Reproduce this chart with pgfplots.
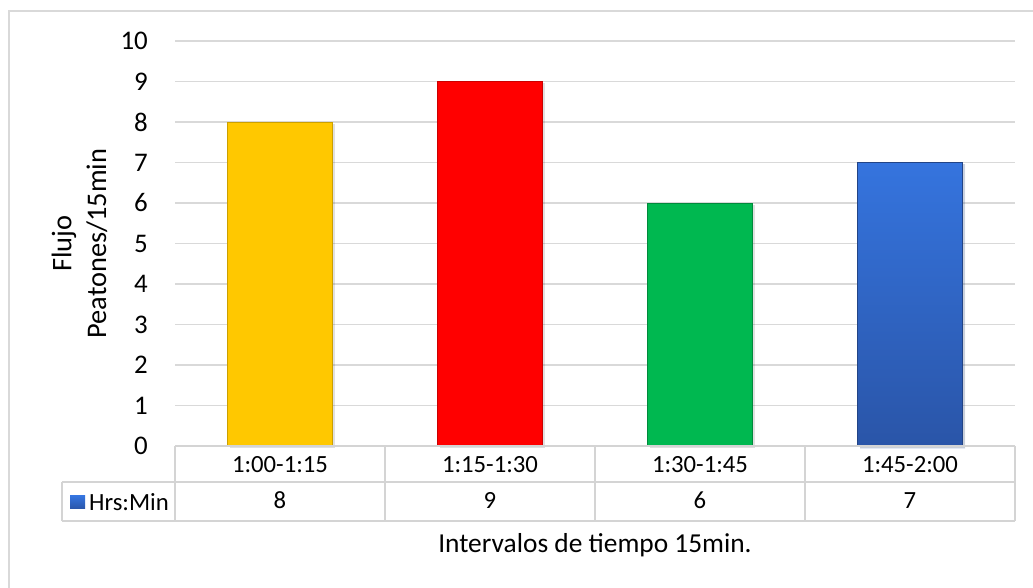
\documentclass[border=0pt]{standalone}
\usepackage{pgfplots}
\pgfplotsset{compat=1.18}
\usepackage{fontspec}
\setmainfont{Carlito}
\definecolor{gridc}{HTML}{D9D9D9}
\definecolor{tabc}{HTML}{D4D4D4}
\definecolor{cyel}{HTML}{FFC800}
\definecolor{cred}{HTML}{FF0000}
\definecolor{cgrn}{HTML}{00B850}
\definecolor{cblutop}{HTML}{3574DE}
\definecolor{cblubot}{HTML}{2A55A8}
\begin{document}
\begin{tikzpicture}
\path[use as bounding box] (0,0) rectangle (1033bp,588bp);
\fill[white] (0,0) rectangle (1033bp,588bp);
% outer frame (cropped right and bottom)
\draw[gridc, line width=1.5bp] (9bp,0) -- (9bp,577bp) -- (1033bp,577bp);
\begin{axis}[
  at={(175bp,142bp)}, anchor=south west,
  width=840bp, height=405bp, scale only axis,
  xmin=-0.5, xmax=3.5, ymin=0, ymax=10,
  ytick={0,1,...,10},
  xtick={0,1,2,3},
  xticklabels={{1:00-1:15\\8},{1:15-1:30\\9},{1:30-1:45\\6},{1:45-2:00\\7}},
  xticklabel style={font=\fontsize{24.8}{36.4}\selectfont, align=center, anchor=north, inner sep=0pt, yshift=-10.5bp},
  yticklabel style={font=\fontsize{27}{30}\selectfont, anchor=east, inner sep=0pt, xshift=-27bp},
  /pgf/number format/assume math mode=true,
  major tick length=0pt,
  axis line style={draw=none},
  ymajorgrids, grid style={gridc, line width=1.5bp},
  ylabel={Flujo\\Peatones/15min},
  ylabel style={font=\fontsize{28.5}{35}\selectfont, align=center, at={(axis description cs:-0.1137,0.5)}, anchor=center},
  xlabel={Intervalos de tiempo 15min.},
  xlabel style={font=\fontsize{27.5}{30}\selectfont, anchor=base, at={(axis description cs:0.5,-0.263)}},
  clip=false,
  every axis plot/.append style={ybar, bar width=105bp, bar shift=0pt, line width=0.8bp,
    preaction={fill=black, opacity=0.12, draw=none, transform canvas={xshift=2.5bp, yshift=-2bp}}},
]
\addplot[fill=cyel, draw=cyel!80!black] coordinates {(0,8)};
\addplot[fill=cred, draw=cred!80!black] coordinates {(1,9)};
\addplot[fill=cgrn, draw=cgrn!75!black] coordinates {(2,6)};
\addplot[top color=cblutop, bottom color=cblubot, draw=cblubot!80!black] coordinates {(3,7)};
\end{axis}
% data table grid
\begin{scope}[tabc, line width=1.5bp]
\draw (175bp,142bp) -- (1015bp,142bp);
\draw (62bp,106bp) -- (1015bp,106bp);
\draw (62bp,67bp) -- (1015bp,67bp);
\draw (62bp,106bp) -- (62bp,67bp);
\foreach \x in {175,385,595,805,1015} \draw (\x bp,142bp) -- (\x bp,67bp);
\end{scope}
\shade[top color=cblutop, bottom color=cblubot] (70bp,79bp) rectangle (85bp,92bp);
\node[font=\fontsize{24.8}{28}\selectfont, anchor=west, inner sep=0pt] at (89bp,86bp) {Hrs:Min};
\end{tikzpicture}
\end{document}
